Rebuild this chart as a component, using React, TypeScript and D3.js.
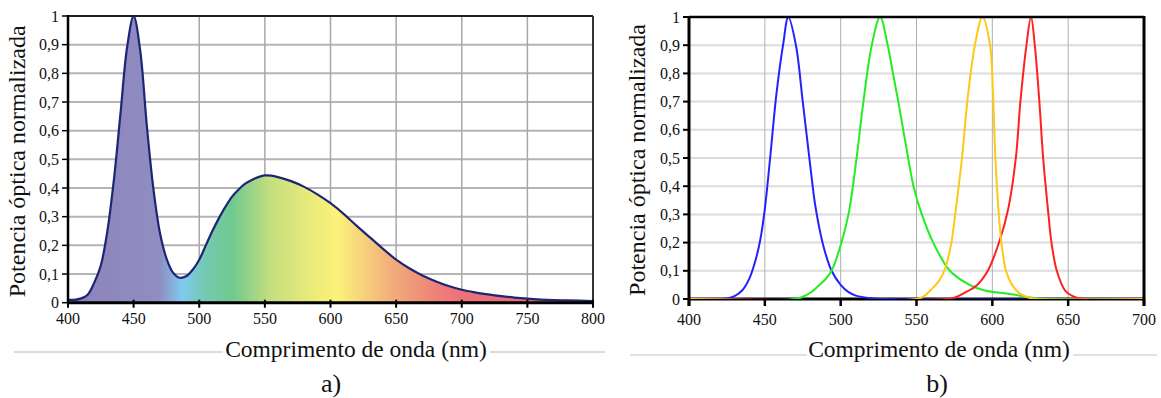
import React from "react";
import * as d3 from "d3";

// ---- Data: chart a) white LED spectrum ----
const whiteWl = [400, 405, 410, 415, 420, 425, 430, 435, 440, 445, 450, 455, 460, 465, 470, 475, 480, 485, 490, 495, 500, 505, 510, 515, 520, 525, 530, 535, 540, 545, 550, 555, 560, 570, 580, 590, 600, 610, 620, 630, 640, 650, 660, 670, 680, 690, 700, 710, 720, 730, 740, 750, 760, 770, 780, 790, 800];
const whiteVal = [0.01, 0.01, 0.015, 0.028, 0.07, 0.13, 0.25, 0.43, 0.66, 0.89, 1.0, 0.88, 0.62, 0.4, 0.245, 0.155, 0.105, 0.087, 0.092, 0.115, 0.15, 0.2, 0.25, 0.295, 0.335, 0.37, 0.395, 0.415, 0.428, 0.438, 0.444, 0.443, 0.438, 0.424, 0.404, 0.378, 0.347, 0.31, 0.268, 0.228, 0.188, 0.15, 0.12, 0.095, 0.075, 0.058, 0.045, 0.036, 0.029, 0.023, 0.018, 0.014, 0.011, 0.009, 0.008, 0.007, 0.006];

// ---- Data: chart b) RGBY LEDs ----
const blueWl = [400, 425, 430, 435, 440, 444, 447, 450, 453.5, 457.5, 462, 465.5, 470.5, 475, 480, 483, 486, 489, 494, 500, 505, 510, 520, 530, 700];
const blueVal = [0, 0.002, 0.01, 0.03, 0.075, 0.14, 0.21, 0.32, 0.5, 0.72, 0.9, 1.0, 0.9, 0.7, 0.47, 0.34, 0.25, 0.18, 0.1, 0.05, 0.025, 0.012, 0.003, 0, 0];
const greenWl = [400, 470, 475, 480, 486, 490, 494, 500.5, 505.5, 510.5, 515, 520.5, 526, 531, 534.5, 538, 544.5, 548, 553.5, 561, 572, 585, 595, 605, 615, 625, 635, 700];
const greenVal = [0, 0, 0.008, 0.022, 0.05, 0.07, 0.1, 0.2, 0.31, 0.5, 0.7, 0.9, 1.0, 0.9, 0.8, 0.7, 0.5, 0.4, 0.3, 0.2, 0.1, 0.05, 0.03, 0.022, 0.015, 0.005, 0, 0];
const yellowWl = [400, 550, 555, 560, 565, 569, 573, 575.5, 580, 583.5, 588.5, 593.5, 598.5, 600.5, 602, 604, 606, 609, 613, 618, 624, 630, 700];
const yellowVal = [0, 0, 0.01, 0.035, 0.065, 0.11, 0.2, 0.3, 0.5, 0.7, 0.9, 1.0, 0.9, 0.72, 0.5, 0.32, 0.2, 0.1, 0.05, 0.02, 0.005, 0, 0];
const redWl = [400, 570, 575, 581, 590, 597, 605, 610.5, 615.5, 618.5, 622.5, 625.5, 628, 631, 633.5, 637, 639, 642.5, 648, 653, 660, 700];
const redVal = [0, 0, 0.005, 0.02, 0.05, 0.1, 0.21, 0.32, 0.5, 0.7, 0.9, 1.0, 0.9, 0.7, 0.5, 0.3, 0.2, 0.1, 0.03, 0.01, 0, 0];

const xTicksA = [400, 450, 500, 550, 600, 650, 700, 750, 800];
const xTicksB = [400, 450, 500, 550, 600, 650, 700];
const yTicks = [0, 0.1, 0.2, 0.3, 0.4, 0.5, 0.6, 0.7, 0.8, 0.9, 1];
const yTickLabels = ["0", "0,1", "0,2", "0,3", "0,4", "0,5", "0,6", "0,7", "0,8", "0,9", "1"];

const spectrumStops: [number, string][] = [
  [400, "#8d83b9"], [470, "#8f8dc2"], [487, "#7fcaee"], [505, "#74c9b0"], [525, "#70c98e"],
  [555, "#c6df7f"], [585, "#eaea7a"], [605, "#fbf27a"], [625, "#f6d27b"], [650, "#f2a87b"],
  [680, "#ee8279"], [700, "#ec707a"], [800, "#e86c78"],
];

const TF = { fontFamily: "Liberation Serif" };

export default function App() {
  const xa = d3.scaleLinear().domain([400, 800]).range([68, 593]);
  const ya = d3.scaleLinear().domain([0, 1]).range([302.7, 16]);
  const xb = d3.scaleLinear().domain([400, 700]).range([689, 1144]);
  const yb = d3.scaleLinear().domain([0, 1]).range([299, 17]);

  const curve = d3.curveCatmullRom.alpha(0.5);

  const whitePts: [number, number][] = whiteWl.map((w, i) => [w, whiteVal[i]]);
  const areaA = d3.area<[number, number]>().x(d => xa(d[0])).y0(ya(0)).y1(d => ya(Math.max(0, d[1]))).curve(curve)(whitePts) || "";
  const lineA = d3.line<[number, number]>().x(d => xa(d[0])).y(d => ya(d[1])).curve(curve)(whitePts) || "";

  const mk = (wl: number[], v: number[]) =>
    d3.line<number>().x((_, i) => xb(wl[i])).y(d => yb(d)).curve(curve)(v) || "";

  const series = [
    { path: mk(blueWl, blueVal), color: "#2222ff" },
    { path: mk(greenWl, greenVal), color: "#22ee22" },
    { path: mk(redWl, redVal), color: "#ff2020" },
    { path: mk(yellowWl, yellowVal), color: "#ffc814" },
  ];

  return (
    <svg width={1161} height={398} style={{ position: "absolute", left: 0, top: 0, background: "#fff" }}>
      <defs>
        <linearGradient id="spec" gradientUnits="userSpaceOnUse" x1={xa(400)} x2={xa(800)} y1={0} y2={0}>
          {spectrumStops.map(([w, c], i) => (
            <stop key={i} offset={(w - 400) / 400} stopColor={c} />
          ))}
        </linearGradient>
        <clipPath id="clipB">
          <rect x={xb(400)} y={yb(1) - 2} width={xb(700) - xb(400)} height={yb(0) - yb(1) + 2} />
        </clipPath>
      </defs>

      {/* ===== Chart a ===== */}
      <g>
        {yTicks.slice(1, -1).map((t, i) => (
          <line key={"ah" + i} x1={xa(400)} x2={xa(800)} y1={ya(t)} y2={ya(t)} stroke="#b4b4b4" strokeWidth={2} />
        ))}
        {xTicksA.slice(1, -1).map((t, i) => (
          <line key={"av" + i} x1={xa(t)} x2={xa(t)} y1={ya(0)} y2={ya(1)} stroke="#a8a8a8" strokeWidth={1.5} />
        ))}
        <path d={areaA} fill="url(#spec)" />
        <path d={lineA} fill="none" stroke="#1c2672" strokeWidth={2.2} strokeLinejoin="round" />
        <line x1={xa(400)} x2={xa(800)} y1={ya(1)} y2={ya(1)} stroke="#222" strokeWidth={2} />
        <line x1={xa(800)} x2={xa(800)} y1={ya(1)} y2={ya(0)} stroke="#333" strokeWidth={2} />
        <line x1={xa(400)} x2={xa(400)} y1={ya(1) - 1} y2={ya(0)} stroke="#000" strokeWidth={2.5} />
        <line x1={xa(400) - 1} x2={xa(800) + 1} y1={ya(0)} y2={ya(0)} stroke="#000" strokeWidth={3} />
        {yTicks.map((t, i) => (
          <g key={"ayt" + i}>
            <line x1={xa(400) - 6} x2={xa(400)} y1={ya(t)} y2={ya(t)} stroke="#000" strokeWidth={1.5} />
            <text x={xa(400) - 9} y={ya(t)} dy="0.35em" textAnchor="end" fontSize={16} fill="#111" style={TF}>{yTickLabels[i]}</text>
          </g>
        ))}
        {xTicksA.map((t, i) => (
          <g key={"axt" + i}>
            <line x1={xa(t)} x2={xa(t)} y1={ya(0) - 3} y2={ya(0) + 5} stroke="#000" strokeWidth={2} />
            <text x={xa(t)} y={ya(0) + 21} textAnchor="middle" fontSize={16} fill="#111" style={TF}>{t}</text>
          </g>
        ))}
        <text transform={`translate(25,${(ya(0) + ya(1)) / 2 + 2}) rotate(-90)`} textAnchor="middle" fontSize={24} fill="#111" style={TF}>Potencia óptica normalizada</text>
        <line x1={14} x2={223} y1={352} y2={352} stroke="#b8b8b8" strokeWidth={1} />
        <line x1={490} x2={605} y1={352} y2={352} stroke="#b8b8b8" strokeWidth={1} />
        <text x={356} y={357} textAnchor="middle" fontSize={23.5} fill="#111" style={TF}>Comprimento de onda (nm)</text>
        <text x={331} y={392} textAnchor="middle" fontSize={26} fill="#111" style={TF}>a)</text>
      </g>

      {/* ===== Chart b ===== */}
      <g>
        {yTicks.slice(1, -1).map((t, i) => (
          <line key={"bh" + i} x1={xb(400)} x2={xb(700)} y1={yb(t)} y2={yb(t)} stroke="#dcdcdc" strokeWidth={2} />
        ))}
        {xTicksB.slice(1, -1).map((t, i) => (
          <line key={"bv" + i} x1={xb(t)} x2={xb(t)} y1={yb(0)} y2={yb(1)} stroke="#b0b0b0" strokeWidth={1} />
        ))}
        <line x1={xb(400)} x2={xb(700)} y1={yb(0)} y2={yb(0)} stroke="#000" strokeWidth={3} />
        <g clipPath="url(#clipB)">
          {series.map((s, i) => (
            <path key={"s" + i} d={s.path} fill="none" stroke={s.color} strokeWidth={2} strokeLinejoin="round" />
          ))}
        </g>
        <line x1={xb(400)} x2={xb(700)} y1={yb(1)} y2={yb(1)} stroke="#000" strokeWidth={2.5} />
        <line x1={xb(700)} x2={xb(700)} y1={yb(1) - 1} y2={yb(0) + 7} stroke="#000" strokeWidth={3} />
        <line x1={xb(400)} x2={xb(400)} y1={yb(1) - 1} y2={yb(0) + 7} stroke="#000" strokeWidth={3} />
        {yTicks.map((t, i) => (
          <g key={"byt" + i}>
            <line x1={xb(400) - 6} x2={xb(400)} y1={yb(t)} y2={yb(t)} stroke="#000" strokeWidth={2} />
            <text x={xb(400) - 9} y={yb(t)} dy="0.35em" textAnchor="end" fontSize={16} fill="#111" style={TF}>{yTickLabels[i]}</text>
          </g>
        ))}
        {xTicksB.map((t, i) => (
          <g key={"bxt" + i}>
            <line x1={xb(t)} x2={xb(t)} y1={yb(0)} y2={yb(0) + 7} stroke="#000" strokeWidth={2.5} />
            <text x={xb(t)} y={yb(0) + 26} textAnchor="middle" fontSize={16} fill="#111" style={TF}>{t}</text>
          </g>
        ))}
        <text transform={`translate(645,${(yb(0) + yb(1)) / 2 + 2}) rotate(-90)`} textAnchor="middle" fontSize={24} fill="#111" style={TF}>Potencia óptica normalizada</text>
        <line x1={630} x2={807} y1={355} y2={355} stroke="#c4c4c4" strokeWidth={1} />
        <line x1={1073} x2={1157} y1={355} y2={355} stroke="#c4c4c4" strokeWidth={1} />
        <text x={939} y={357} textAnchor="middle" fontSize={23.5} fill="#111" style={TF}>Comprimento de onda (nm)</text>
        <text x={937} y={392} textAnchor="middle" fontSize={26} fill="#111" style={TF}>b)</text>
      </g>
    </svg>
  );
}
